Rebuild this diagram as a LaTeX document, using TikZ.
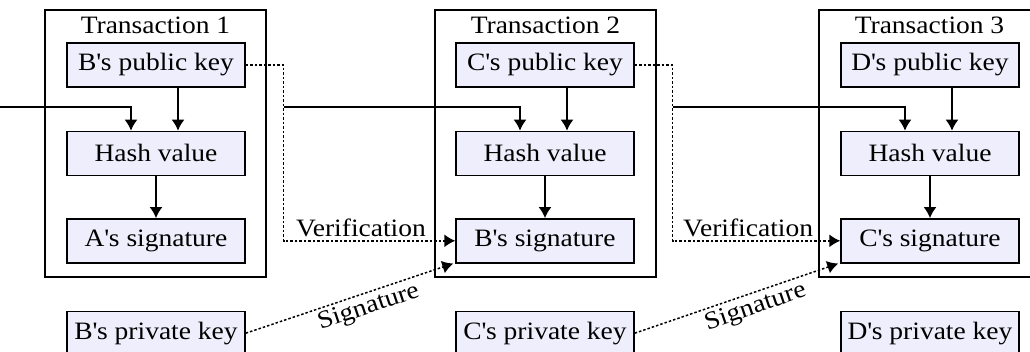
\documentclass[tikz,border=0pt]{standalone}
\usepackage{fontspec}
\setmainfont{Liberation Serif}[FakeStretch=1.1]
\usetikzlibrary{arrows.meta, positioning, calc}
\definecolor{boxfill}{RGB}{238,238,252}
\newcommand{\aps}{\textquotesingle}

\begin{document}
\begin{tikzpicture}
  [
  x=1pt, y=-1pt,
  font=\fontsize{25}{29}\selectfont,
  % outer transaction frame
  frame/.style = {rectangle, draw, line width=1.9pt,
    minimum width = 221pt, minimum height = 267pt},
  % inner boxes
  block/.style = {rectangle, draw, line width=1.4pt, fill=boxfill,
    minimum width = 178pt, minimum height = 44pt, inner sep=0pt},
  title/.style = {inner sep=0pt},
  % lines
  line/.style = {draw, line width=1.7pt, -{Latex[length=11pt,width=13pt]}},
  dotline/.style = {draw, line width=1.5pt, dash pattern=on 2.5pt off 2pt,
    -{Latex[length=11pt,width=13pt]}},
  ]

  \useasboundingbox (0,0) rectangle (1030,351);
  \clip (0,0) rectangle (1030,351);

  % transaction frames
  \node [frame] (tx1) at (155.5,143.5) {};
  \node [frame] (tx2) at (545.5,143.5) {};
  \node [frame] (tx3) at (929.5,143.5) {};
  \node [title, below = 8pt of tx1.north] {Transaction 1};
  \node [title, below = 8pt of tx2.north] {Transaction 2};
  \node [title, below = 8pt of tx3.north] {Transaction 3};

  % nodes
  \node [block] (pub1) at (156,65) {B\aps s public key};
  \node [block, below = 43pt of pub1] (hash1) {Hash value};
  \node [block, below = 42pt of hash1] (sig1) {A\aps s signature};
  \node [block, below = 47pt of sig1] (priv1) {B\aps s private key};

  \node [block] (pub2) at (545,65) {C\aps s public key};
  \node [block, below = 43pt of pub2] (hash2) {Hash value};
  \node [block, below = 42pt of hash2] (sig2) {B\aps s signature};
  \node [block, below = 47pt of sig2] (priv2) {C\aps s private key};

  \node [block] (pub3) at (930,65) {D\aps s public key};
  \node [block, below = 43pt of pub3] (hash3) {Hash value};
  \node [block, below = 42pt of hash3] (sig3) {C\aps s signature};
  \node [block, below = 47pt of sig3] (priv3) {D\aps s private key};

  % coordinates for the chain and the verification bends
  \coordinate (in) at (0,107);
  \coordinate (v1) at ($(pub1.east)+(38,0)$);
  \coordinate (v2) at ($(pub2.east)+(38,0)$);

  % path
  \path [line] ([xshift=22pt]pub1.south) -- ([xshift=22pt]hash1.north);
  \path [line] (hash1) -- (sig1);
  \path [line] ([xshift=22pt]pub2.south) -- ([xshift=22pt]hash2.north);
  \path [line] (hash2) -- (sig2);
  \path [line] ([xshift=22pt]pub3.south) -- ([xshift=22pt]hash3.north);
  \path [line] (hash3) -- (sig3);

  % chain of hashes
  \path [line] (in) -| ([xshift=-25pt]hash1.north);
  \path [line] (v1 |- in) -| ([xshift=-25pt]hash2.north);
  \path [line] (v2 |- in) -| ([xshift=-25pt]hash3.north);

  % verification
  \path [dotline] (pub1.east) -| (v1 |- sig2.west)
    -- node [above, pos=0.45] {Verification} (sig2.west);
  \path [dotline] (pub2.east) -| (v2 |- sig3.west)
    -- node [above, pos=0.45] {Verification} (sig3.west);

  % signature
  \path [dotline] (priv1.east) -- node [sloped, below, pos=0.57] {Signature}
    ([xshift=-2pt]sig2.south west);
  \path [dotline] (priv2.east) -- node [sloped, below, pos=0.57] {Signature}
    ([xshift=-2pt]sig3.south west);

\end{tikzpicture}
\end{document}
